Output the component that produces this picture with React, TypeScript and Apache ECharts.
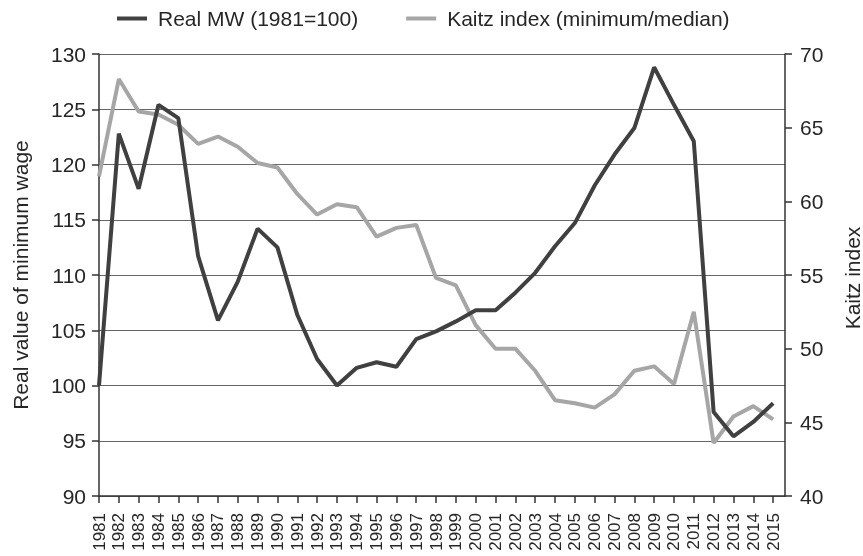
import React, { useEffect, useRef } from "react";
import * as echarts from "echarts";

const years = [1981, 1982, 1983, 1984, 1985, 1986, 1987, 1988, 1989, 1990, 1991, 1992, 1993, 1994, 1995, 1996, 1997, 1998, 1999, 2000, 2001, 2002, 2003, 2004, 2005, 2006, 2007, 2008, 2009, 2010, 2011, 2012, 2013, 2014, 2015];

const realMW = [100, 122.8, 117.8, 125.4, 124.2, 111.7, 105.9, 109.4, 114.2, 112.5, 106.4, 102.4, 100.0, 101.6, 102.1, 101.7, 104.2, 104.9, 105.8, 106.8, 106.8, 108.4, 110.2, 112.6, 114.7, 118.1, 120.9, 123.3, 128.8, 125.4, 122.1, 97.6, 95.4, 96.7, 98.4];

const kaitz = [61.7, 68.3, 66.1, 65.9, 65.2, 63.9, 64.4, 63.7, 62.6, 62.3, 60.5, 59.1, 59.8, 59.6, 57.6, 58.2, 58.4, 54.8, 54.3, 51.6, 50.0, 50.0, 48.5, 46.5, 46.3, 46.0, 46.9, 48.5, 48.8, 47.6, 52.5, 43.6, 45.4, 46.1, 45.2];

const seriesNames = ["Real MW (1981=100)", "Kaitz index (minimum/median)"];
const leftTitle = "Real value of minimum wage";
const rightTitle = "Kaitz index";

const FONT = "'Liberation Sans', Arial, Helvetica, sans-serif";
const TEXT = "#262626";
const AXIS = "#333333";

export default function App() {
  const ref = useRef<HTMLDivElement>(null);
  useEffect(() => {
    const chart = echarts.init(ref.current!, null, { renderer: "svg" });
    chart.setOption({
      animation: false,
      textStyle: { fontFamily: FONT },
      grid: { left: 99, right: 78, top: 54, bottom: 60, containLabel: false },
      legend: {
        data: seriesNames,
        left: 112,
        top: 3,
        icon: "rect",
        itemWidth: 30,
        itemHeight: 4,
        itemGap: 48,
        textStyle: { fontSize: 21, color: TEXT, fontFamily: FONT, padding: [0, 0, 0, 6] },
      },
      xAxis: {
        type: "value",
        min: 1981,
        max: 2015.6,
        interval: 1,
        axisLine: { show: true, lineStyle: { color: AXIS, width: 1.5 } },
        axisTick: { show: true, length: 7, lineStyle: { color: AXIS, width: 1.5 }, customValues: years },
        axisLabel: {
          customValues: years,
          rotate: 90,
          margin: 17,
          fontSize: 17,
          color: TEXT,
          fontFamily: FONT,
          formatter: (v: number) => String(Math.round(v)),
        },
        splitLine: { show: false },
      },
      yAxis: [
        {
          type: "value",
          min: 90,
          max: 130,
          interval: 5,
          position: "left",
          axisLine: { show: true, lineStyle: { color: AXIS, width: 1.5 } },
          axisTick: { show: true, length: 7, lineStyle: { color: AXIS, width: 1.5 } },
          axisLabel: { fontSize: 21, color: TEXT, margin: 13, fontFamily: FONT },
          splitLine: { show: true, lineStyle: { color: "#666666", width: 1 } },
        },
        {
          type: "value",
          min: 40,
          max: 70,
          interval: 5,
          position: "right",
          axisLine: { show: true, lineStyle: { color: AXIS, width: 1.5 } },
          axisTick: { show: true, length: 7, lineStyle: { color: AXIS, width: 1.5 } },
          axisLabel: { fontSize: 21, color: TEXT, margin: 15, fontFamily: FONT },
          splitLine: { show: false },
        },
      ],
      graphic: [
        {
          type: "text",
          x: 20,
          y: 275,
          rotation: Math.PI / 2,
          style: { text: leftTitle, fontSize: 21, fill: TEXT, fontFamily: FONT, align: "center", verticalAlign: "middle" },
        },
        {
          type: "text",
          x: 852,
          y: 278,
          rotation: Math.PI / 2,
          style: { text: rightTitle, fontSize: 21, fill: TEXT, fontFamily: FONT, align: "center", verticalAlign: "middle" },
        },
      ],
      series: [
        {
          name: seriesNames[0],
          type: "line",
          yAxisIndex: 0,
          data: years.map((y, i) => [y, realMW[i]]),
          showSymbol: false,
          symbol: "none",
          lineStyle: { color: "#404040", width: 4 },
          itemStyle: { color: "#404040" },
          z: 3,
        },
        {
          name: seriesNames[1],
          type: "line",
          yAxisIndex: 1,
          data: years.map((y, i) => [y, kaitz[i]]),
          showSymbol: false,
          symbol: "none",
          lineStyle: { color: "#a6a6a6", width: 4 },
          itemStyle: { color: "#a6a6a6" },
          z: 2,
        },
      ],
    });
    return () => chart.dispose();
  }, []);
  return <div ref={ref} style={{ position: "fixed", left: 0, top: 0, width: 863, height: 556 }} />;
}
